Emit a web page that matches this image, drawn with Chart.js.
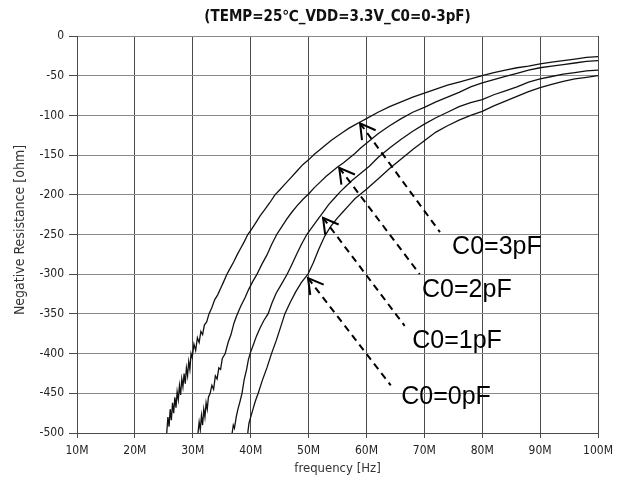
<!DOCTYPE html>
<html>
<head>
<meta charset="utf-8">
<script src="https://cdn.jsdelivr.net/npm/chart.js@4/dist/chart.umd.min.js"></script>
<style>
  html, body { margin: 0; padding: 0; background: #ffffff; }
  #wrap { position: relative; width: 626px; height: 489px; }
</style>
</head>
<body>
<div id="wrap"><canvas id="c"></canvas></div>
<script>
// ---- data (frequency in MHz, resistance in ohm) ----
const xTicks = [10, 20, 30, 40, 50, 60, 70, 80, 90, 100];
const yTicks = [0, -50, -100, -150, -200, -250, -300, -350, -400, -450, -500];

const curve3pF = [[25.5,-500],[25.7,-480],[25.9,-492],[26.1,-470],[26.3,-484],[26.5,-462],[26.7,-475],[26.9,-455],[27.1,-468],[27.3,-448],[27.5,-458],[27.7,-440],[27.9,-452],[28.1,-432],[28.3,-442],[28.5,-425],[28.7,-438],[28.9,-418],[29.1,-428],[29.3,-410],[29.5,-420],[29.7,-400],[29.9,-405],[30.2,-388],[30.5,-396],[30.8,-380],[31.1,-386],[31.4,-372],[31.7,-376],[32.0,-364],[32.4,-360],[32.8,-350],[33.3,-342],[33.8,-332],[34.3,-326],[34.8,-318],[35.3,-310],[35.9,-300],[36.5,-292],[37.1,-284],[37.7,-275],[38.3,-267],[38.9,-259],[39.5,-250],[40.2,-243],[40.9,-235],[41.6,-227],[42.4,-219],[43.3,-210],[44.2,-200],[45,-194],[46,-186],[47,-178],[48,-170],[49,-162],[50,-156],[51,-149],[52,-143],[53,-137],[54,-131],[55,-126],[56,-121],[57,-116],[58,-112],[59,-108],[60,-104],[62,-96],[64,-89],[66,-83],[68,-77],[70,-72],[72,-67],[74,-62],[76,-58],[78,-54],[80,-50],[82,-46],[84,-43],[86,-40],[88,-38],[90,-35],[92,-33],[94,-31],[96,-29],[98,-27],[100,-26]];

const curve2pF = [[30.9,-500],[31.1,-486],[31.3,-496],[31.5,-478],[31.7,-490],[31.9,-470],[32.1,-480],[32.3,-462],[32.5,-470],[32.7,-455],[33.0,-450],[33.3,-440],[33.6,-445],[33.9,-428],[34.2,-432],[34.5,-418],[34.8,-420],[35.1,-406],[35.6,-400],[36.1,-386],[36.6,-376],[37.1,-362],[37.6,-352],[38.3,-340],[39.0,-330],[39.6,-320],[40.3,-310],[41.1,-300],[41.9,-288],[42.8,-276],[43.6,-263],[44.5,-250],[45.3,-241],[46.2,-231],[47.1,-222],[48,-214],[49,-206],[50,-199],[51,-191],[52,-184],[53,-177],[54,-171],[55,-165],[56,-160],[57,-154],[58,-148],[59,-141],[60,-135],[62,-123],[64,-113],[66,-104],[68,-96],[70,-90],[72,-83],[74,-77],[76,-71],[78,-64],[80,-59],[82,-55],[84,-51],[86,-47],[88,-43],[90,-40],[92,-38],[94,-36],[96,-34],[98,-32],[100,-31]];

const curve1pF = [[36.8,-500],[37.0,-490],[37.2,-494],[37.5,-480],[37.8,-470],[38.1,-462],[38.5,-450],[38.9,-432],[39.3,-420],[39.6,-408],[39.9,-400],[40.4,-390],[41.0,-378],[41.6,-368],[42.3,-358],[43.0,-350],[43.7,-336],[44.4,-324],[45.2,-314],[46.3,-300],[47.1,-288],[48.0,-274],[48.8,-262],[49.7,-250],[50.5,-242],[51.5,-232],[52.5,-222],[53.5,-212],[54.5,-204],[55.5,-196],[56.5,-189],[57.5,-182],[58.5,-176],[59.5,-170],[60.5,-164],[62,-153],[64,-141],[66,-130],[68,-120],[70,-111],[72,-103],[74,-96],[76,-89],[78,-84],[80,-80],[82,-74],[84,-69],[86,-64],[88,-58],[90,-54],[92,-51],[94,-48],[96,-46],[98,-44],[100,-43]];

const curve0pF = [[39.5,-500],[39.7,-488],[40.0,-480],[40.4,-470],[40.8,-460],[41.3,-450],[42.0,-434],[42.8,-418],[43.6,-400],[44.4,-384],[45.2,-366],[45.9,-350],[46.8,-336],[47.8,-322],[48.8,-310],[49.9,-300],[50.8,-286],[51.8,-268],[52.8,-252],[53.8,-240],[55,-229],[56,-221],[57,-213],[58,-205],[59,-199],[60,-193],[62,-180],[64,-167],[66,-155],[68,-143],[70,-132],[72,-121],[74,-113],[76,-106],[78,-100],[80,-95],[82,-88],[84,-82],[86,-76],[88,-70],[90,-65],[92,-61],[94,-57],[96,-54],[98,-52],[100,-50]];

const seriesNames = ['C0=3pF', 'C0=2pF', 'C0=1pF', 'C0=0pF'];
const seriesData = [curve3pF, curve2pF, curve1pF, curve0pF];

// annotation arrows (data units): tip on curve, tail end, label anchor (left, baseline)
const arrowTips   = [[58.9,-110],[55.3,-166],[52.5,-229],[49.9,-305]];
const arrowTails  = [[72.7,-247],[69.2,-300],[66.6,-365],[64.2,-440]];
const labelAnchor = [[74.8,-275],[69.6,-329],[67.9,-393],[66.0,-463]];

const titleText = '(TEMP=25\u2103_VDD=3.3V_C0=0-3pF)';
const xTitle = 'frequency [Hz]';
const yTitle = 'Negative Resistance [ohm]';

// ---- drawing ----
const FAM = '"DejaVu Sans Condensed", "DejaVu Sans", sans-serif';
const tickFont = { family: FAM, size: 12 };

const overlay = {
  id: 'overlay',
  afterDatasetsDraw(chart) {
    const { ctx, scales: { x, y } } = chart;
    ctx.save();
    for (let i = 0; i < arrowTips.length; i++) {
      const tx = x.getPixelForValue(arrowTips[i][0]);
      const ty = y.getPixelForValue(arrowTips[i][1]);
      const ex = x.getPixelForValue(arrowTails[i][0]);
      const ey = y.getPixelForValue(arrowTails[i][1]);
      ctx.strokeStyle = '#000';
      ctx.lineWidth = 2;
      ctx.setLineDash([7, 5]);
      ctx.beginPath();
      ctx.moveTo(tx, ty);
      ctx.lineTo(ex, ey);
      ctx.stroke();
      ctx.setLineDash([]);
      const ang = Math.atan2(ey - ty, ex - tx);
      const L = 17, spread = 0.52;
      ctx.beginPath();
      ctx.moveTo(tx + L * Math.cos(ang - spread), ty + L * Math.sin(ang - spread));
      ctx.lineTo(tx, ty);
      ctx.lineTo(tx + L * Math.cos(ang + spread), ty + L * Math.sin(ang + spread));
      ctx.stroke();
      ctx.fillStyle = '#000';
      ctx.font = '25px "Liberation Sans", Arial, sans-serif';
      ctx.textAlign = 'left';
      ctx.textBaseline = 'alphabetic';
      ctx.fillText(seriesNames[i], x.getPixelForValue(labelAnchor[i][0]), y.getPixelForValue(labelAnchor[i][1]));
    }
    ctx.restore();
  },
  afterDraw(chart) {
    const { ctx, chartArea } = chart;
    ctx.save();
    const cx = (chartArea.left + chartArea.right) / 2;
    ctx.fillStyle = '#111';
    ctx.textAlign = 'center';
    ctx.textBaseline = 'middle';
    ctx.font = 'bold 15px ' + FAM;
    ctx.fillText(titleText, cx, 17);
    ctx.fillStyle = '#333';
    ctx.font = '13px ' + FAM;
    ctx.fillText(xTitle, cx, 469);
    ctx.font = '14px ' + FAM;
    ctx.translate(20, 230);
    ctx.rotate(-Math.PI / 2);
    ctx.fillText(yTitle, 0, 0);
    ctx.restore();
  }
};

new Chart(document.getElementById('c'), {
  type: 'line',
  data: {
    datasets: seriesData.map((d, i) => ({
      label: seriesNames[i],
      data: d.map(p => ({ x: p[0], y: p[1] })),
      borderColor: '#111',
      borderWidth: 1.3,
      pointRadius: 0,
      tension: 0,
      fill: false
    }))
  },
  options: {
    responsive: true,
    maintainAspectRatio: false,
    animation: false,
    events: [],
    layout: { padding: { left: 0, right: 28, top: 36, bottom: 0 } },
    plugins: { legend: { display: false }, title: { display: false }, tooltip: { enabled: false } },
    scales: {
      x: {
        type: 'linear',
        min: 10, max: 100,
        afterBuildTicks: s => { s.ticks = xTicks.map(v => ({ value: v })); },
        afterFit: s => { s.height = 56; },
        ticks: { callback: v => v + 'M', font: tickFont, color: '#222', padding: 6, maxRotation: 0 },
        grid: { color: '#4a4a4a', lineWidth: 1, tickLength: 5, tickColor: '#4a4a4a' },
        border: { color: '#4a4a4a', width: 1 }
      },
      y: {
        type: 'linear',
        min: -500, max: 0,
        afterBuildTicks: s => { s.ticks = yTicks.map(v => ({ value: v })); },
        afterFit: s => { s.width = 77; },
        ticks: { font: tickFont, color: '#222', padding: 5 },
        grid: { color: '#8a8a8a', lineWidth: 1, tickLength: 8, tickColor: '#4a4a4a' },
        border: { color: '#4a4a4a', width: 1 }
      }
    }
  },
  plugins: [overlay]
});
</script>
</body>
</html>
